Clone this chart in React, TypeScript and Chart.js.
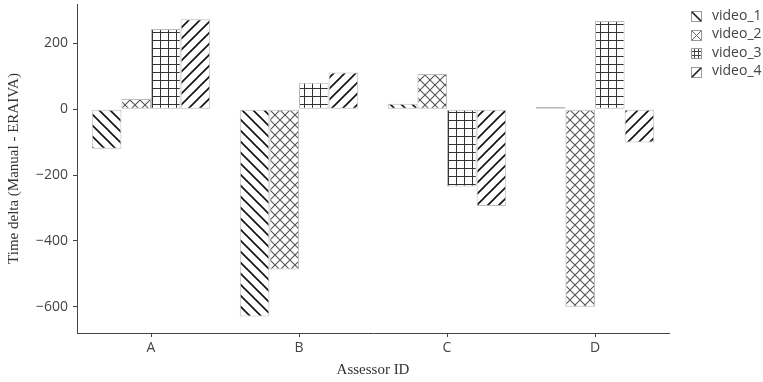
import React, { useEffect, useRef } from "react";
import { Chart, registerables } from "chart.js";

Chart.register(...registerables);

const categories = ["A", "B", "C", "D"];
const seriesNames = ["video_1", "video_2", "video_3", "video_4"];
const video1 = [-120, -630, 17, 7];
const video2 = [31, -487, 107, -600];
const video3 = [244, 81, -235, 268];
const video4 = [274, 112, -294, -101];
const yTicks = [-600, -400, -200, 0, 200];
const yMin = -680;
const yMax = 320;

const SANS = "'Open Sans', 'DejaVu Sans', sans-serif";
const SERIF = "'Liberation Serif', 'DejaVu Serif', serif";
const TEXT = "#444";

function makeTile(kind: number): HTMLCanvasElement {
  const size = kind === 2 ? 8 : kind === 1 ? 10 : 11;
  const c = document.createElement("canvas");
  c.width = size;
  c.height = size;
  const g = c.getContext("2d")!;
  g.fillStyle = "#fff";
  g.fillRect(0, 0, size, size);
  g.lineCap = "square";
  if (kind === 0) {
    g.strokeStyle = "#111";
    g.lineWidth = 1.6;
    g.beginPath();
    g.moveTo(-2, -2);
    g.lineTo(size + 2, size + 2);
    g.moveTo(-2, size - 2);
    g.lineTo(2, size + 2);
    g.moveTo(size - 2, -2);
    g.lineTo(size + 2, 2);
    g.stroke();
  } else if (kind === 1) {
    g.strokeStyle = "#555";
    g.lineWidth = 1.1;
    g.beginPath();
    g.moveTo(0, 0);
    g.lineTo(size, size);
    g.moveTo(size, 0);
    g.lineTo(0, size);
    g.stroke();
  } else if (kind === 2) {
    g.strokeStyle = "#333";
    g.lineWidth = 1;
    g.beginPath();
    g.moveTo(0.5, 0);
    g.lineTo(0.5, size);
    g.moveTo(0, 0.5);
    g.lineTo(size, 0.5);
    g.stroke();
  } else {
    g.strokeStyle = "#111";
    g.lineWidth = 1.6;
    g.beginPath();
    g.moveTo(-2, size + 2);
    g.lineTo(size + 2, -2);
    g.moveTo(-2, 2);
    g.lineTo(2, -2);
    g.moveTo(size - 2, size + 2);
    g.lineTo(size + 2, size - 2);
    g.stroke();
  }
  return c;
}

const legendPlugin = {
  id: "customLegend",
  afterDraw(chart: any) {
    const ctx = chart.ctx;
    ctx.save();
    const x0 = 691;
    const ys = [16, 34.5, 53, 71.5];
    seriesNames.forEach((name, i) => {
      const y = ys[i];
      const s = 10;
      const bx = x0;
      const by = Math.round(y - s / 2);
      ctx.fillStyle = "#fff";
      ctx.fillRect(bx, by, s, s);
      ctx.strokeStyle = "#999";
      ctx.lineWidth = 1;
      ctx.strokeRect(bx + 0.5, by + 0.5, s, s);
      ctx.beginPath();
      ctx.strokeStyle = "#222";
      if (i === 0) {
        ctx.lineWidth = 1.7;
        ctx.moveTo(bx + 1, by + 1);
        ctx.lineTo(bx + s, by + s);
      } else if (i === 1) {
        ctx.strokeStyle = "#666";
        ctx.lineWidth = 1;
        ctx.moveTo(bx + 1, by + 1);
        ctx.lineTo(bx + s, by + s);
        ctx.moveTo(bx + s, by + 1);
        ctx.lineTo(bx + 1, by + s);
      } else if (i === 2) {
        ctx.lineWidth = 1;
        ctx.strokeStyle = "#444";
        ctx.moveTo(bx + 3.5, by + 1);
        ctx.lineTo(bx + 3.5, by + s);
        ctx.moveTo(bx + 7.5, by + 1);
        ctx.lineTo(bx + 7.5, by + s);
        ctx.moveTo(bx + 1, by + 3.5);
        ctx.lineTo(bx + s, by + 3.5);
        ctx.moveTo(bx + 1, by + 7.5);
        ctx.lineTo(bx + s, by + 7.5);
      } else {
        ctx.lineWidth = 1.7;
        ctx.moveTo(bx + 1, by + s);
        ctx.lineTo(bx + s, by + 1);
      }
      ctx.stroke();
      ctx.fillStyle = TEXT;
      ctx.font = `14px ${SANS}`;
      ctx.textAlign = "left";
      ctx.textBaseline = "middle";
      ctx.fillText(name, 712, y);
    });
    ctx.restore();
  },
};

export default function App() {
  const ref = useRef<HTMLCanvasElement | null>(null);

  useEffect(() => {
    const canvas = ref.current!;
    const tmp = canvas.getContext("2d")!;
    const patterns = [0, 1, 2, 3].map((k) => tmp.createPattern(makeTile(k), "repeat")!);
    const values = [video1, video2, video3, video4];
    const chart = new Chart(canvas, {
      type: "bar",
      data: {
        labels: categories,
        datasets: seriesNames.map((name, i) => ({
          label: name,
          data: values[i],
          backgroundColor: patterns[i] as any,
          borderColor: "#bbb",
          borderWidth: 1,
          borderSkipped: false,
          categoryPercentage: 0.8,
          barPercentage: 1,
        })),
      },
      options: {
        animation: false,
        responsive: false,
        maintainAspectRatio: false,
        devicePixelRatio: 1,
        layout: { padding: { left: 0, right: 94, top: 4, bottom: 0 } },
        plugins: {
          legend: { display: false },
          tooltip: { enabled: false },
        },
        scales: {
          x: {
            type: "category",
            offset: true,
            grid: {
              display: true,
              offset: false,
              drawOnChartArea: false,
              drawTicks: true,
              tickLength: 4,
              color: "#444",
            },
            border: { display: true, color: "#444", width: 1 },
            ticks: {
              color: TEXT,
              font: { family: SANS, size: 14 },
              padding: 3,
            },
            title: {
              display: true,
              text: "Assessor ID",
              color: "#333",
              font: { family: SERIF, size: 15 },
              padding: { top: 0, bottom: 3 },
            },
            afterFit: (scale: any) => {
              scale.height = 49;
              scale.paddingLeft = 0;
              scale.paddingRight = 0;
            },
          },
          y: {
            type: "linear",
            min: yMin,
            max: yMax,
            grid: {
              display: true,
              drawOnChartArea: false,
              drawTicks: true,
              tickLength: 4,
              color: "#444",
            },
            border: { display: true, color: "#444", width: 1 },
            ticks: {
              color: TEXT,
              font: { family: SANS, size: 14 },
              padding: 5,
              callback: (v: any) => String(v).replace("-", "\u2212"),
            },
            afterBuildTicks: (axis: any) => {
              axis.ticks = yTicks.map((v) => ({ value: v }));
            },
            title: {
              display: true,
              text: "Time delta (Manual - ERAIVA)",
              color: "#333",
              font: { family: SERIF, size: 15 },
              padding: { top: 5, bottom: 0 },
            },
            afterFit: (scale: any) => {
              scale.width = 77;
              scale.paddingTop = 0;
              scale.paddingBottom = 0;
            },
          },
        },
      },
      plugins: [legendPlugin],
    });
    return () => chart.destroy();
  }, []);

  return (
    <div style={{ position: "fixed", left: 0, top: 0, width: 763, height: 382, background: "#fff" }}>
      <canvas ref={ref} width={763} height={382} style={{ width: 763, height: 382, display: "block" }} />
    </div>
  );
}
